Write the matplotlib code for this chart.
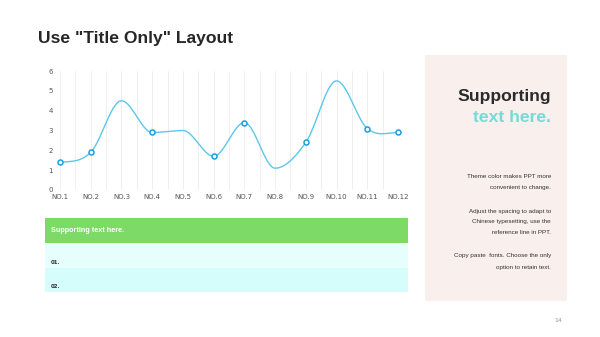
import matplotlib

matplotlib.use("Agg")
import matplotlib.pyplot as plt
import numpy as np
from matplotlib.patches import Rectangle

categories = ["NO.1", "NO.2", "NO.3", "NO.4", "NO.5", "NO.6",
              "NO.7", "NO.8", "NO.9", "NO.10", "NO.11", "NO.12"]
values = [1.4, 1.9, 4.5, 2.9, 3.0, 1.7, 3.4, 1.1, 2.4, 5.5, 3.1, 2.9]
marked = [True, True, False, True, False, True, True, False, True, False, True, True]
y_ticks = [0, 1, 2, 3, 4, 5, 6]

title = 'Use "Title Only" Layout'
band_text = "Supporting text here."
rows = ["01.", "02."]
side_head = ["Supporting", "text here."]
side_paras = [
    ["Theme color makes PPT more", "convenient to change."],
    ["Adjust the spacing to adapt to", "Chinese typesetting, use the", "reference line in PPT."],
    ["Copy paste  fonts. Choose the only", "option to retain text."],
]
page_no = "14"

W, H = 600, 337
C_LINE = "#5cc6ec"
C_MARK = "#1a9fe0"
FONT = "Liberation Sans"


def px(x, y, w, h):
    """pixel box (top-left origin) -> figure fraction rect"""
    return [x / W, 1 - (y + h) / H, w / W, h / H]


def smooth_curve(y, n=40):
    # cubic Hermite, Catmull-Rom tangents, flat at local extrema (chart-style smoothing)
    y = np.asarray(y, float)
    k = len(y)
    m = np.zeros(k)
    for i in range(1, k - 1):
        if (y[i] - y[i - 1]) * (y[i + 1] - y[i]) > 0:
            m[i] = 0.5 * (y[i + 1] - y[i - 1])
    m[0] = 0.3 * (y[1] - y[0])
    m[-1] = 0.0
    xs, ys = [], []
    for i in range(k - 1):
        t = np.linspace(0, 1, n, endpoint=False)
        h00 = 2 * t ** 3 - 3 * t ** 2 + 1
        h10 = t ** 3 - 2 * t ** 2 + t
        h01 = -2 * t ** 3 + 3 * t ** 2
        h11 = t ** 3 - t ** 2
        xs.append(i + t)
        ys.append(h00 * y[i] + h10 * m[i] + h01 * y[i + 1] + h11 * m[i + 1])
    xs.append([k - 1])
    ys.append([y[-1]])
    return np.concatenate(xs), np.concatenate(ys)


fig = plt.figure(figsize=(W / 100, H / 100), dpi=100)
fig.patch.set_facecolor("white")

fig.text(38 / W, 1 - 38 / H, title, fontsize=12.6, fontweight="bold",
         color="#262626", va="center", ha="left", family=FONT)

# ── line chart ──
ax = fig.add_axes(px(60, 71, 338, 119))
x = np.arange(len(values))
for gx in np.arange(0, len(values) - 0.9, 0.5):
    ax.axvline(gx, color="#ededed", lw=0.6, zorder=1)
sx, sy = smooth_curve(values)
ax.plot(sx, sy, color=C_LINE, lw=1.0, zorder=3, clip_on=False)
mx = [i for i, m in enumerate(marked) if m]
ax.plot(mx, [values[i] for i in mx], "o", ms=3.6, mfc="white", mec=C_MARK, mew=1.1,
        zorder=4, clip_on=False)
ax.set_xlim(0, len(values) - 1)
ax.set_ylim(0, 6)
ax.set_yticks(y_ticks)
ax.set_xticks(x)
ax.set_xticklabels(categories)
ax.grid(False)
for s in ax.spines.values():
    s.set_visible(False)
ax.tick_params(which="both", length=0, labelsize=5, colors="#555555", pad=3)
ax.tick_params(axis="y", pad=5)
ax.set_facecolor("none")

# ── green band and rows ──
bg = fig.add_axes([0, 0, 1, 1], zorder=-1)
bg.set_xlim(0, W)
bg.set_ylim(H, 0)
bg.axis("off")
bg.add_patch(Rectangle((45, 218), 363, 25, color="#7dda66", lw=0))
bg.add_patch(Rectangle((45, 243), 363, 25, color="#e6fffc", lw=0))
bg.add_patch(Rectangle((45, 268), 363, 24, color="#d4fdfc", lw=0))
bg.text(51, 231, band_text, fontsize=5.2, fontweight="bold", color="white", va="center",
        family=FONT)
bg.text(51, 262, rows[0], fontsize=4, fontweight="bold", color="#333333", va="center")
bg.text(51, 286, rows[1], fontsize=4, fontweight="bold", color="#333333", va="center")

# ── right panel ──
bg.add_patch(Rectangle((425, 55), 142, 246, color="#f9efec", lw=0))
bg.text(551, 97, side_head[0], fontsize=12.6, fontweight="bold", color="#2b2b2b",
        ha="right", va="center", family=FONT)
bg.text(551, 118, side_head[1], fontsize=12.6, fontweight="bold", color="#74dcd8",
        ha="right", va="center", family=FONT)
y0s = [177, 211, 256]
for y0, para in zip(y0s, side_paras):
    for j, line in enumerate(para):
        bg.text(551, y0 + j * 11, line, fontsize=4.5, color="#333333", ha="right", va="center",
                family=FONT)

bg.text(558, 321, page_no, fontsize=4.5, color="#999999", ha="center", va="center")

fig.savefig("out.png", dpi=100)
